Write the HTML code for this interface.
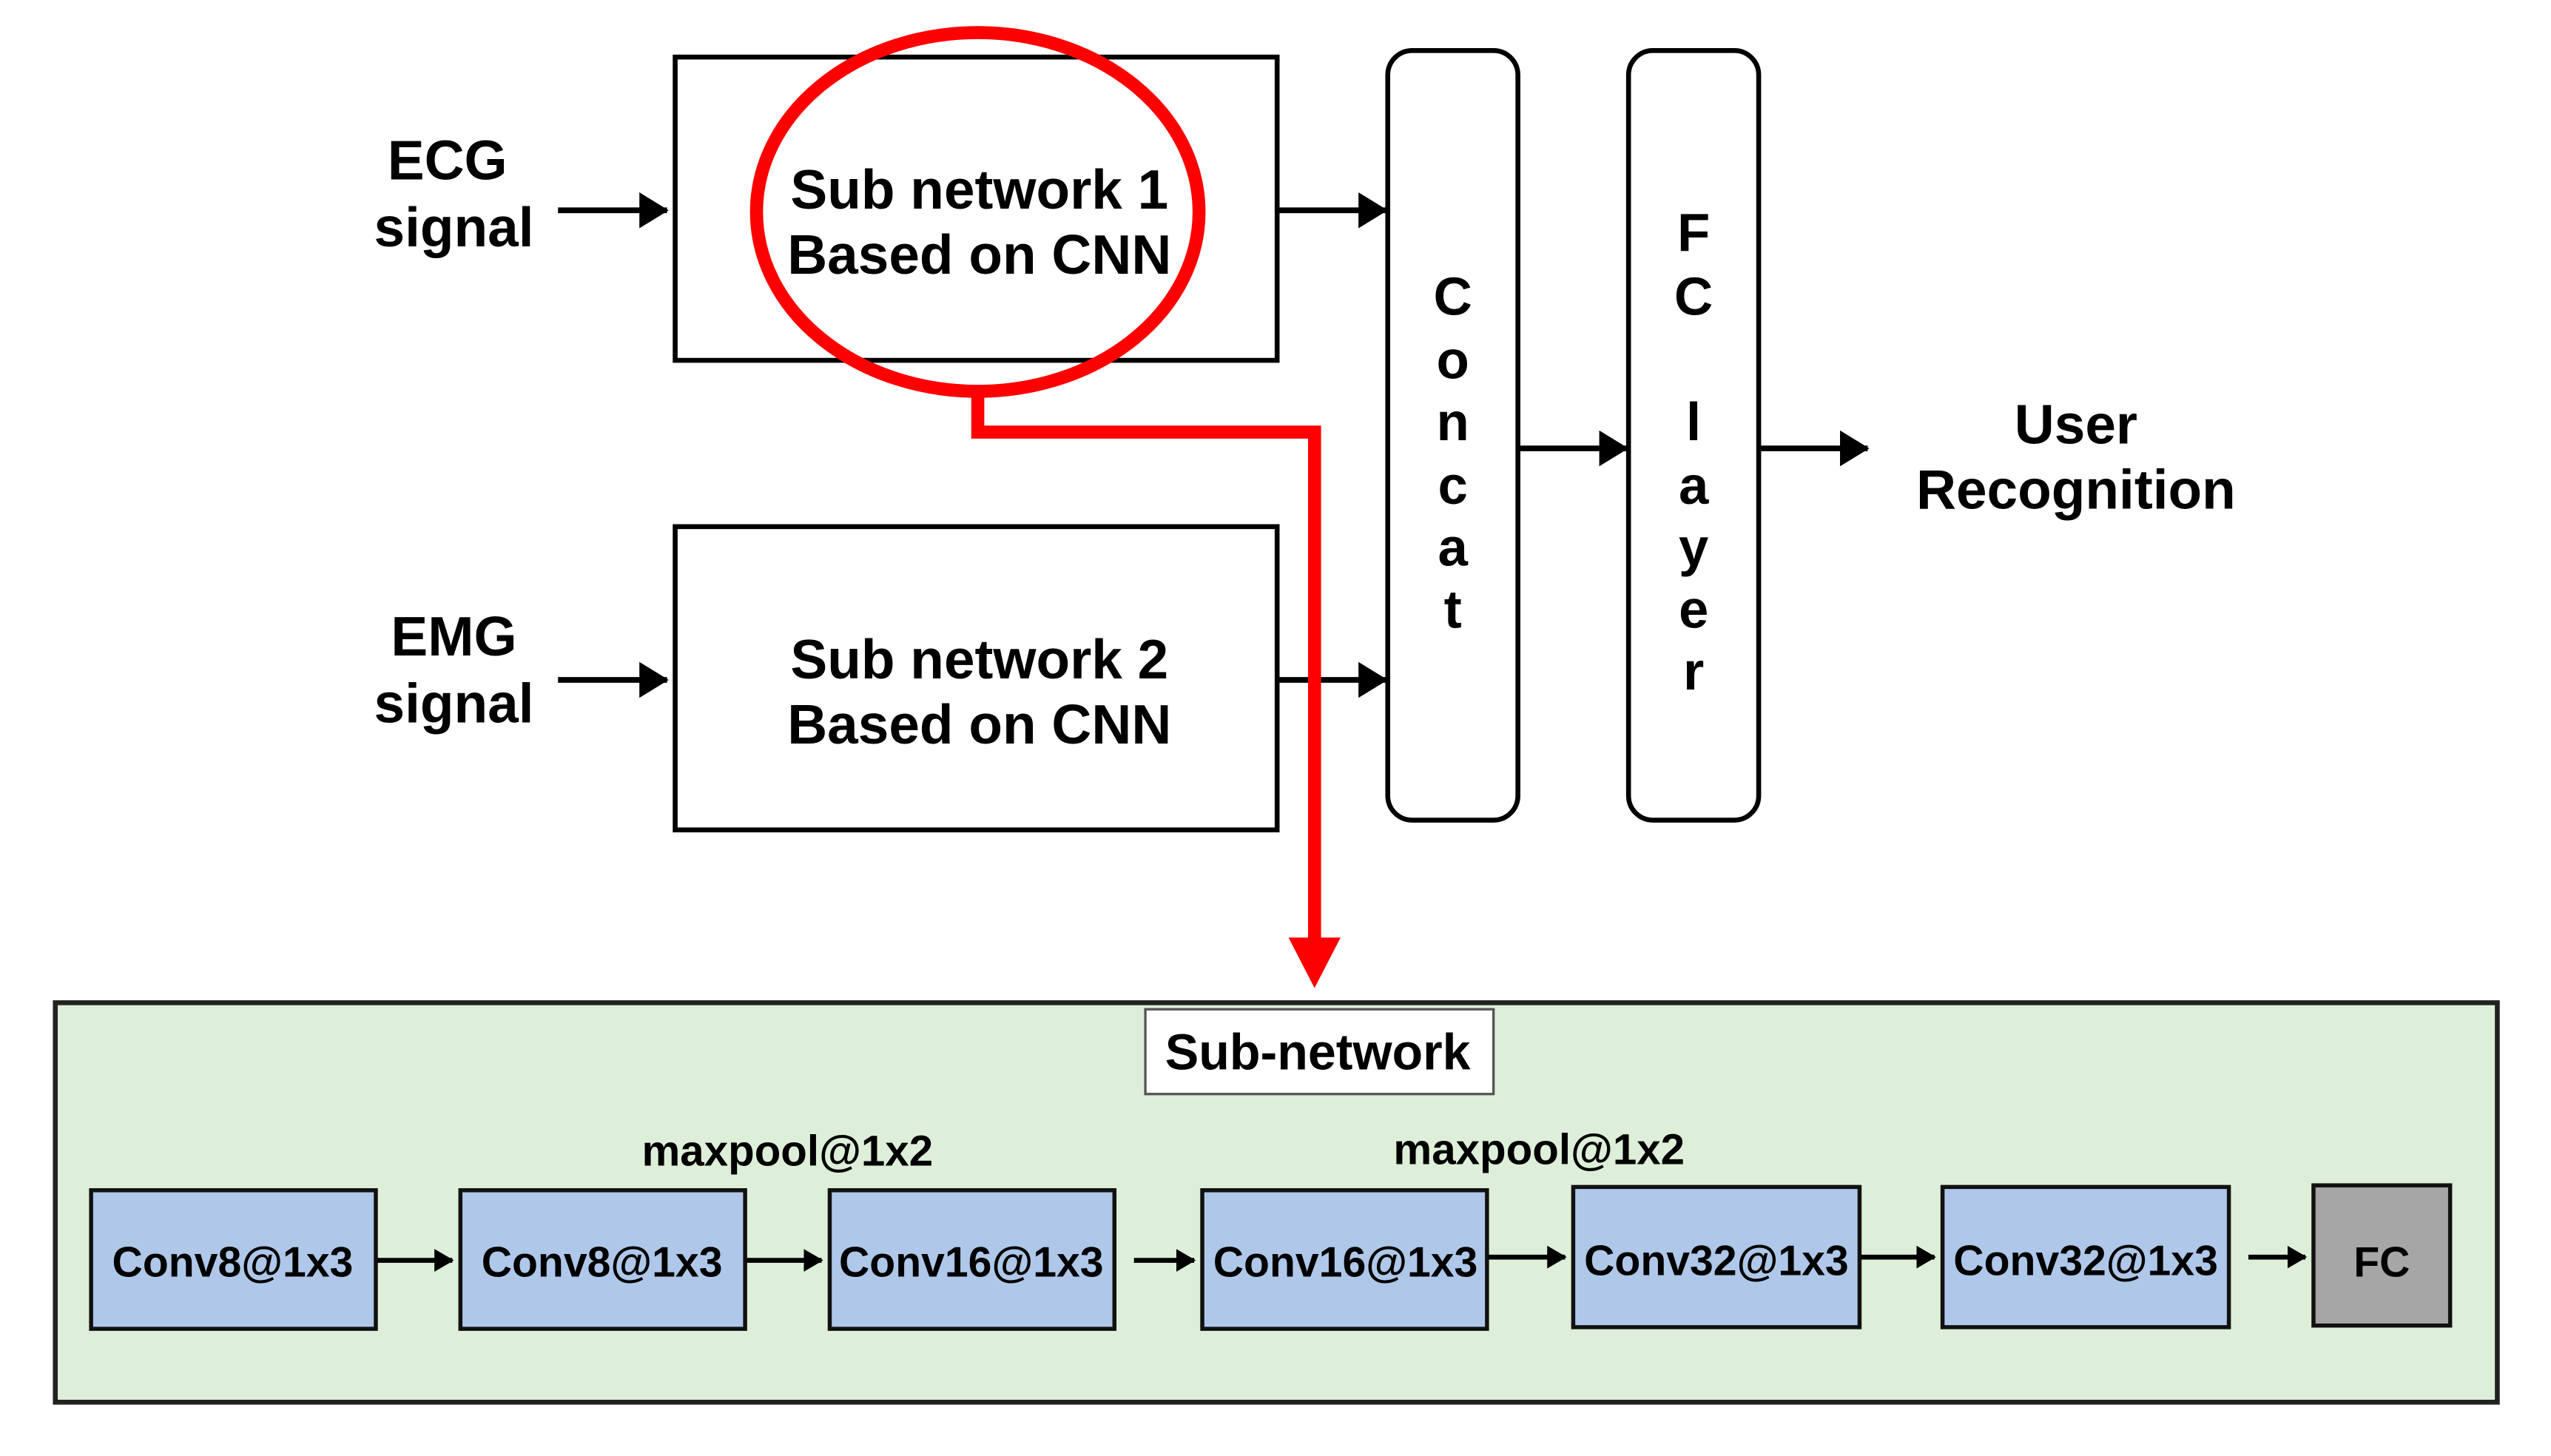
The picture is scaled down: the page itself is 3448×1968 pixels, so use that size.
<!DOCTYPE html>
<html><head><meta charset="utf-8"><style>
html,body{margin:0;padding:0;background:#fff;}
svg{display:block;}
text{font-family:"Liberation Sans",Arial,sans-serif;font-weight:bold;fill:#000;}
</style></head><body>
<svg width="3448" height="1968" viewBox="0 0 1568 893" preserveAspectRatio="none" xmlns="http://www.w3.org/2000/svg">
<defs>
<marker id="ah" markerWidth="18" markerHeight="22" refX="17" refY="11" orient="auto" markerUnits="userSpaceOnUse"><path d="M0,0 L18,11 L0,22 z" fill="#000"/></marker>
<marker id="as" markerWidth="12" markerHeight="14" refX="11" refY="7" orient="auto" markerUnits="userSpaceOnUse"><path d="M0,0 L12,7 L0,14 z" fill="#000"/></marker>
</defs>
<rect width="1568" height="893" fill="#fff"/>
<g font-size="34" text-anchor="middle">
<text x="275" y="110">ECG</text>
<text x="279" y="151">signal</text>
<text x="279" y="402">EMG</text>
<text x="279" y="443">signal</text>
<text x="1276" y="272">User</text>
<text x="1276" y="312">Recognition</text>
</g>
<rect x="415" y="35" width="370" height="186" fill="none" stroke="#000" stroke-width="3"/>
<rect x="415" y="323" width="370" height="186" fill="none" stroke="#000" stroke-width="3"/>
<g font-size="34" text-anchor="middle">
<text x="602" y="128">Sub network 1</text>
<text x="602" y="168">Based on CNN</text>
<text x="602" y="416">Sub network 2</text>
<text x="602" y="456">Based on CNN</text>
</g>
<rect x="853" y="31" width="80" height="472" rx="15" fill="#fff" stroke="#000" stroke-width="3"/>
<rect x="1001" y="31" width="80" height="472" rx="15" fill="#fff" stroke="#000" stroke-width="3"/>
<g font-size="33" text-anchor="middle">
<text x="893" y="193">C</text><text x="893" y="232">o</text><text x="893" y="270">n</text><text x="893" y="309">c</text><text x="893" y="347">a</text><text x="893" y="385">t</text>
<text x="1041" y="154">F</text><text x="1041" y="193">C</text><text x="1041" y="270">l</text><text x="1041" y="309">a</text><text x="1041" y="347">y</text><text x="1041" y="385">e</text><text x="1041" y="423">r</text>
</g>
<g stroke="#000" stroke-width="3.5" marker-end="url(#ah)">
<line x1="343" y1="129" x2="410" y2="129"/>
<line x1="343" y1="417" x2="410" y2="417"/>
<line x1="785" y1="129" x2="852" y2="129"/>
<line x1="785" y1="417" x2="852" y2="417"/>
<line x1="933" y1="275" x2="1000" y2="275"/>
<line x1="1081" y1="275" x2="1148" y2="275"/>
</g>
<ellipse cx="601" cy="130" rx="136" ry="110" fill="none" stroke="#f00" stroke-width="8"/>
<path d="M601,240 L601,265 L808,265 L808,578" fill="none" stroke="#f00" stroke-width="8"/>
<path d="M792,575 L824,575 L808,606 z" fill="#f00"/>
<rect x="34" y="615" width="1501" height="245" fill="#deefd9" stroke="#222" stroke-width="3"/>
<rect x="704" y="619" width="214" height="52" fill="#fff" stroke="#555" stroke-width="1.5"/>
<text x="810" y="656" font-size="31" text-anchor="middle">Sub-network</text>
<g font-size="26.5" text-anchor="middle">
<text x="484" y="715">maxpool@1x2</text>
<text x="946" y="714">maxpool@1x2</text>
</g>
<g fill="#afc8e9" stroke="#111" stroke-width="2.5">
<rect x="56" y="730" width="175" height="85"/>
<rect x="283" y="730" width="175" height="85"/>
<rect x="510" y="730" width="175" height="85"/>
<rect x="739" y="730" width="175" height="85"/>
<rect x="967" y="728" width="176" height="86"/>
<rect x="1194" y="728" width="176" height="86"/>
</g>
<rect x="1422" y="727" width="84" height="86" fill="#a6a6a6" stroke="#111" stroke-width="2.5"/>
<g font-size="26" text-anchor="middle">
<text x="143" y="783">Conv8@1x3</text>
<text x="370" y="783">Conv8@1x3</text>
<text x="597" y="783">Conv16@1x3</text>
<text x="827" y="783">Conv16@1x3</text>
<text x="1055" y="782">Conv32@1x3</text>
<text x="1282" y="782">Conv32@1x3</text>
<text x="1464" y="783">FC</text>
</g>
<g stroke="#000" stroke-width="3" marker-end="url(#as)">
<line x1="232" y1="773" x2="278" y2="773"/>
<line x1="459" y1="773" x2="505" y2="773"/>
<line x1="697" y1="773" x2="734" y2="773"/>
<line x1="915" y1="771" x2="962" y2="771"/>
<line x1="1144" y1="771" x2="1189" y2="771"/>
<line x1="1382" y1="771" x2="1417" y2="771"/>
</g>
</svg>
</body></html>
